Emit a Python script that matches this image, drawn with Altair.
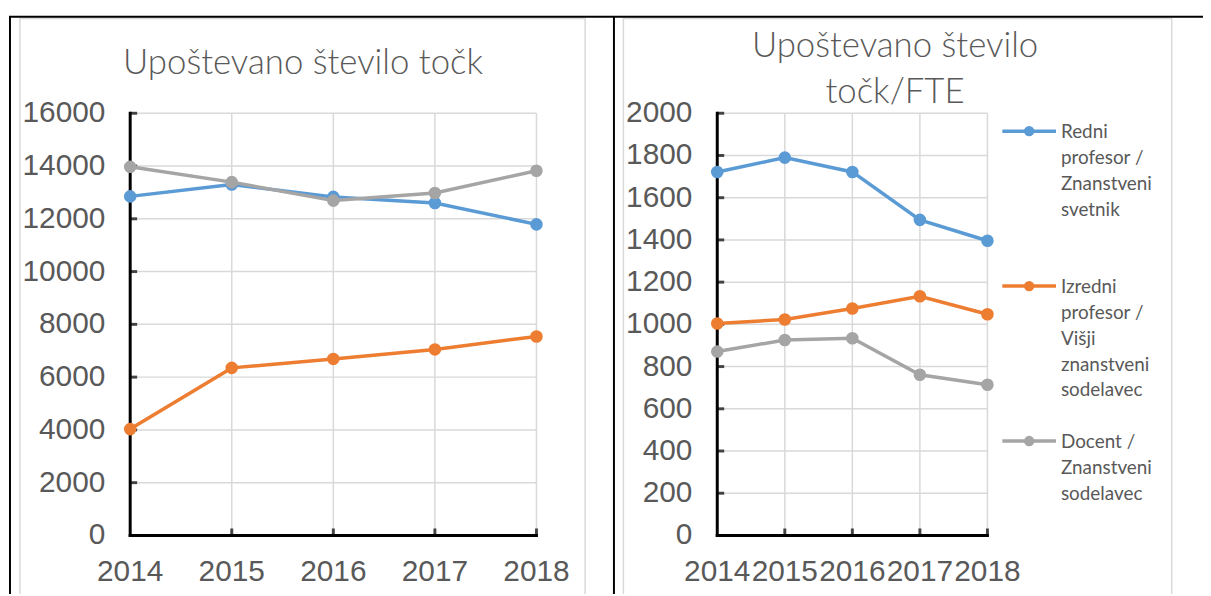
import altair as alt
import pandas as pd

# ---------------- data ----------------
years = [2014, 2015, 2016, 2017, 2018]
series = [
    "Redni profesor / Znanstveni svetnik",
    "Izredni profesor / Višji znanstveni sodelavec",
    "Docent / Znanstveni sodelavec",
]
legend_labels = [
    "Redni\nprofesor /\nZnanstveni\nsvetnik",
    "Izredni\nprofesor /\nVišji\nznanstveni\nsodelavec",
    "Docent /\nZnanstveni\nsodelavec",
]
colors = ["#5B9BD5", "#ED7D31", "#A5A5A5"]

# Upoštevano število točk
tocke_redni = [12850, 13300, 12830, 12600, 11790]
tocke_izredni = [4030, 6350, 6690, 7050, 7540]
tocke_docent = [13970, 13390, 12690, 12980, 13820]

# Upoštevano število točk/FTE
fte_redni = [1722, 1790, 1722, 1495, 1396]
fte_izredni = [1004, 1023, 1075, 1133, 1048]
fte_docent = [871, 926, 934, 761, 714]

left_ticks = [0, 2000, 4000, 6000, 8000, 10000, 12000, 14000, 16000]
right_ticks = [0, 200, 400, 600, 800, 1000, 1200, 1400, 1600, 1800, 2000]

title_left = "Upoštevano število točk"
title_right = "Upoštevano število\ntočk/FTE"

TEXT = "#595959"
GRID = "#D9D9D9"
LABEL_FONT = "Liberation Sans"
TITLE_FONT = "Lato"
LABEL_SIZE = 30

W, H = 1203, 588

color_enc = alt.Color("series:N", scale=alt.Scale(domain=series, range=colors), legend=None)


def plot_group(values, ticks, ymax, xrange, yrange):
    xs = alt.Scale(domain=[2014, 2018], range=xrange, nice=False, zero=False)
    ys = alt.Scale(domain=[0, ymax], range=yrange, nice=False, zero=False)
    X0 = alt.X(datum=2014, scale=xs, axis=None)
    Y0 = alt.Y(datum=0, scale=ys, axis=None)
    XF = alt.X("year:Q", scale=xs, axis=None)
    YF = alt.Y("v:Q", scale=ys, axis=None)

    tick_df = pd.DataFrame({"v": ticks, "lab": [str(t) for t in ticks]})
    yr_df = pd.DataFrame({"year": years, "lab": [str(y) for y in years]})
    grid_df = tick_df[tick_df.v > 0]
    vg_df = yr_df[yr_df.year > 2014]

    hgrid = alt.Chart(grid_df).mark_rule(color=GRID, strokeWidth=1.5).encode(
        y=YF, x=X0, x2=alt.X2(datum=2018))
    vgrid = alt.Chart(vg_df).mark_rule(color=GRID, strokeWidth=1.5).encode(
        x=XF, y=Y0, y2=alt.Y2(datum=ymax))
    xdom = alt.Chart(yr_df.head(1)).mark_rule(color="black", strokeWidth=3, strokeCap="square").encode(
        x=X0, x2=alt.X2(datum=2018), y=Y0)
    ydom = alt.Chart(yr_df.head(1)).mark_rule(color="black", strokeWidth=3, strokeCap="square").encode(
        x=X0, y=Y0, y2=alt.Y2(datum=ymax))
    yticks = alt.Chart(grid_df).mark_tick(
        orient="horizontal", color="black", thickness=3, size=7, xOffset=3.5
    ).encode(y=YF, x=X0)
    xticks = alt.Chart(vg_df).mark_tick(
        orient="vertical", color="black", thickness=3, size=7, yOffset=-3.5
    ).encode(x=XF, y=Y0)
    ylabels = alt.Chart(tick_df).mark_text(
        align="right", baseline="middle", dx=-25, font=LABEL_FONT, fontSize=LABEL_SIZE, color=TEXT
    ).encode(y=YF, x=X0, text="lab:N")
    xlabels = alt.Chart(yr_df).mark_text(
        align="center", baseline="alphabetic", dy=46, font=LABEL_FONT, fontSize=LABEL_SIZE, color=TEXT
    ).encode(x=XF, y=Y0, text="lab:N")

    layers = [hgrid, vgrid, xdom, ydom, yticks, xticks, ylabels, xlabels]
    for name, vals in zip(series, values):
        df = pd.DataFrame({"year": years, "value": vals, "series": name})
        base = alt.Chart(df).encode(
            x=XF,
            y=alt.Y("value:Q", scale=ys, axis=None),
            color=color_enc,
        )
        layers.append(base.mark_line(strokeWidth=3.5))
        layers.append(base.mark_circle(size=160, opacity=1))
    return alt.layer(*layers)


left = plot_group([tocke_redni, tocke_izredni, tocke_docent], left_ticks, 16000,
                  [123, 532], [529, 104])
right = plot_group([fte_redni, fte_izredni, fte_docent], right_ticks, 2000,
                   [714, 986], [529, 104])

# ---------------- legend ----------------
leg_df = pd.DataFrame({"series": series, "label": legend_labels})
ly = alt.Y("series:N", scale=alt.Scale(type="point", domain=series, range=[122, 434], padding=0),
           axis=None)
leg_base = alt.Chart(leg_df).encode(y=ly, color=color_enc)
legend = alt.layer(
    leg_base.mark_rule(strokeWidth=3.5).encode(x=alt.value(1001), x2=alt.value(1055)),
    leg_base.mark_circle(size=110, opacity=1).encode(x=alt.value(1028)),
    alt.Chart(leg_df).mark_text(
        align="left", baseline="alphabetic", dy=7, font=TITLE_FONT, fontSize=19,
        color=TEXT, lineBreak="\n", lineHeight=26,
    ).encode(y=ly, x=alt.value(1060), text="label:N"),
)

# ---------------- frame / borders ----------------
one = pd.DataFrame({"k": [0]})


def hline(x1, x2, y, color, w):
    return alt.Chart(one).mark_rule(color=color, strokeWidth=w).encode(
        x=alt.value(x1), x2=alt.value(x2), y=alt.value(y))


def vline(x, y1, y2, color, w):
    return alt.Chart(one).mark_rule(color=color, strokeWidth=w).encode(
        x=alt.value(x), y=alt.value(y1), y2=alt.value(y2))


frame = [
    vline(12, 8, H, GRID, 1.5), vline(581, 8, H, GRID, 1.5), hline(12, 581, 8.5, GRID, 1.5),
    vline(619.5, 8, H, GRID, 1.5), vline(1171.5, 8, H, GRID, 1.5), hline(619.5, 1171.5, 8.5, GRID, 1.5),
    hline(1, W, 6.8, "black", 2), vline(2, 6, H, "black", 2), vline(610, 6, H, "black", 2),
]

titles = [
    alt.Chart(pd.DataFrame({"t": [title_left]})).mark_text(
        align="center", baseline="alphabetic", font=TITLE_FONT, fontSize=35, fontWeight=300,
        color=TEXT,
    ).encode(x=alt.value(297), y=alt.value(64), text="t:N"),
    alt.Chart(pd.DataFrame({"t": [title_right]})).mark_text(
        align="center", baseline="alphabetic", font=TITLE_FONT, fontSize=35, fontWeight=300,
        color=TEXT, lineBreak="\n", lineHeight=47,
    ).encode(x=alt.value(893), y=alt.value(47), text="t:N"),
]

chart = alt.layer(*frame, left, right, legend, *titles).resolve_scale(
    x="independent", y="independent"
).properties(
    width=W, height=H, autosize=alt.AutoSizeParams(type="none"), padding=0
).configure_view(stroke="transparent")

chart.save("out.html", embed_options={"renderer": "svg", "actions": False})
